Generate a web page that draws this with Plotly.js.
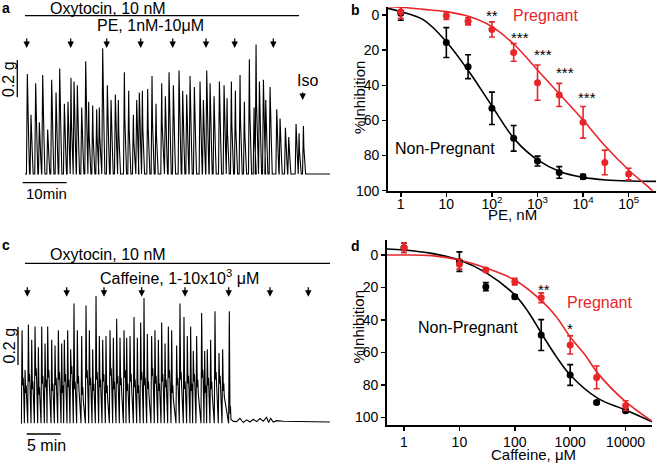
<!DOCTYPE html>
<html>
<head>
<meta charset="utf-8">
<script src="https://cdn.plot.ly/plotly-3.0.1.min.js"></script>
<style>html,body{margin:0;padding:0;background:#fff}#chart{width:660px;height:464px}</style>
</head>
<body>
<div id="chart"></div>
<script>
// ---------- Panel a: PE trace (time in min, tension in g) ----------
const aSpikeT = [0.53,1.36,2.42,3.26,4.02,5.15,6.06,7.05,7.88,8.94,9.77,10.45,11.14,11.89,12.88,13.79,14.47,15.38,16.29,16.89,17.65,18.71,19.55,20.53,21.21,22.58,23.56,24.62,25.38,25.98,26.67,27.88,28.86,29.77,31.06,31.89,32.73,33.71,35.0,35.83,36.74,37.5,38.48,39.77,40.53,41.29,42.05,42.95,44.17,45.23,45.91,46.89,47.8,48.86,49.85,50.98,52.05,52.5,53.26,54.17,54.7,55.68,57.2,57.95,59.17,59.92,61.59,62.27,63.26];
const aSpikeG = [0.54,0.32,0.49,0.28,0.535,0.24,0.51,0.44,0.57,0.38,0.39,0.52,0.50,0.48,0.36,0.61,0.39,0.37,0.35,0.36,0.68,0.48,0.40,0.43,0.40,0.55,0.45,0.32,0.40,0.44,0.45,0.46,0.53,0.38,0.49,0.42,0.55,0.48,0.56,0.45,0.43,0.53,0.47,0.50,0.40,0.56,0.49,0.42,0.50,0.48,0.41,0.50,0.45,0.535,0.39,0.62,0.36,0.70,0.50,0.51,0.40,0.47,0.35,0.30,0.25,0.20,0.27,0.22,0.26];
const aEndT = 69.3;
const aArrowX = [26.7,70.7,106.7,140.7,172.7,206,234.7,273.3];

// ---------- Panel c: caffeine trace ----------
const cSpikeT = [0.2,0.64,1.13,1.62,2.11,2.6,3.09,3.58,3.97,4.56,5.05,5.54,6.03,6.42,6.91,7.35,7.84,8.33,8.97,9.61,10.1,10.59,11.08,11.57,12.06,12.55,13.14,13.63,14.12,14.61,15.2,15.59,16.08,16.67,17.16,17.65,18.14,18.63,19.26,19.75,20.25,20.74,21.23,21.72,22.21,22.94,23.43,24.02,24.51,25.0,25.39,25.88,26.62,27.06,27.45,27.94,28.58,29.17,29.71,30.69];
const cSpikeG = [0.49,0.28,0.52,0.44,0.51,0.40,0.51,0.42,0.51,0.44,0.41,0.49,0.42,0.44,0.49,0.39,0.63,0.49,0.46,0.62,0.49,0.39,0.67,0.46,0.44,0.46,0.49,0.45,0.55,0.45,0.49,0.45,0.46,0.56,0.45,0.53,0.66,0.47,0.46,0.49,0.44,0.53,0.42,0.51,0.49,0.41,0.63,0.56,0.46,0.51,0.38,0.46,0.58,0.38,0.39,0.44,0.59,0.37,0.39,0.59];
const cMidG = [0.20,0.16,0.22,0.18,0.25,0.15,0.21,0.19,0.24,0.17,0.20,0.23,0.16,0.22,0.19,0.26,0.18,0.21,0.15,0.24,0.20,0.17,0.23,0.19,0.22,0.16,0.25,0.18,0.21,0.20,0.24,0.17,0.22,0.19,0.16,0.23,0.20,0.18,0.25,0.21,0.17,0.22,0.19,0.24,0.16,0.20,0.23,0.18,0.21,0.17,0.22,0.19,0.24,0.16,0.20,0.18,0.23,0.21,0.17,0.05];
const cTailT = [31.3,31.76,32.25,32.75,33.24,33.73,34.22,34.71,35.2,35.69,36.18,36.47,36.76,37.16,37.65,38.63,45.49];
const cTailG = [0.01,0.009,0.026,0.004,0.018,0.007,0.021,0.009,0.025,0.011,0.032,0.004,0.026,0.007,0.014,0.011,0.007];
const cArrowX = [27.3,66.7,104,141.7,185,228.7,270,308.3];

// ---------- Panel b: PE dose-response ----------
const peDose = [1,10,30,100,300,1000,3000,10000];
const peNonPreg = [-1,15.7,29.4,53.1,70.2,83.1,89.6,92];
const peNonPregErr = [4,8.5,6.8,9.2,7.3,2.8,3.3,1.3];
const peDoseP = [1,10,30,100,300,1000,3000,10000,30000,100000];
const pePreg = [-1.9,0.4,3.6,8.2,21.3,38.5,45.5,61.1,83.9,90.5];
const pePregErr = [3.8,2.2,2,4.3,5,10,6.6,9,7,3.3];
const peFitX = [0.525,1,3.16,10,31.6,100,316,1000,3162,10000,31623,100000,446684];
const peFitNonPreg = [-3.8,-1.9,2.8,15.2,32.3,51.8,70.8,82.5,89.2,92.4,93.9,94.5,94.7];
const peFitPregX = [0.525,1,3.16,10,31.6,100,316,1000,3162,10000,31623,100000,316228,446684];
const peFitPreg = [-4.7,-4.4,-3.2,-1.9,0.9,6.6,17.1,31.3,45.5,59.8,75,88.2,99.5,104];
const peStars = ['**','***','***','***','***'];
const peTickVals = [1,10,100,1000,10000,100000];
const peTickText = ['1','10','10<sup>2</sup>','10<sup>3</sup>','10<sup>4</sup>','10<sup>5</sup>'];

// ---------- Panel d: caffeine dose-response ----------
const cafDose = [1,10,30,100,300,1000,3000,10000];
const cafNonPreg = [-4.5,4.1,19.5,25.7,49.3,73.9,90.8,95.9];
const cafNonPregErr = [3,6,2.5,1.2,9.5,6.4,1,1];
const cafPreg = [-4.5,5.7,9.2,16.4,26.3,55.4,75.4,92.8];
const cafPregErr = [3,3,1.2,2,3,5.6,7,3];
const cafFitX = [0.49,1,3.16,10,31.6,100,174,316,562,1000,3162,10000,30000];
const cafFitNonPreg = [-3.7,-3.1,-1,3.1,11.3,24.6,34.9,49.3,62.6,73.9,88.3,95.5,102.7];
const cafFitPregX = [0.49,1,3.16,10,31.6,100,316,562,1000,1862,3162,10000,30000];
const cafFitPreg = [0,0,0.4,3.1,8.2,15.4,28.7,38,50.5,61.6,72.9,90.3,102.3];
const cafTickVals = [1,10,100,1000,10000];
const cafTickText = ['1','10','100','1000','10000'];

// ---------- build ----------
const RED = '#e8262a';
const FONT = 'Liberation Sans, Arial, sans-serif';
const W = 660, H = 464;
const px = x => x / W;
const py = y => 1 - y / H;

// spike drawing profile (rendering shape only): time offsets and fraction of the peak
const A_PROFILE_DT = [-0.2, 0, 0.1, 0.3, 0.5];
const A_PROFILE_F  = [0, 1, 0.55, 0.35, 0];

// trace a polyline
const aX = [0], aY = [0];
for (let i = 0; i < aSpikeT.length; i++) {
  for (let k = 0; k < A_PROFILE_DT.length; k++) {
    aX.push(aSpikeT[i] + A_PROFILE_DT[k]);
    aY.push(aSpikeG[i] * A_PROFILE_F[k]);
  }
}
aX.push(aEndT); aY.push(0);

// trace c polyline: rise, peak, fall to plateau, wobble, back to baseline
const C_WOBBLE_DT = [0.1, 0.17, 0.24];
const C_WOBBLE_D  = [0, 0.04, -0.03];
const cX = [0], cY = [0];
for (let i = 0; i < cSpikeT.length; i++) {
  cX.push(cSpikeT[i] - 0.1, cSpikeT[i]);
  cY.push(0, cSpikeG[i]);
  for (let k = 0; k < C_WOBBLE_DT.length; k++) {
    cX.push(cSpikeT[i] + C_WOBBLE_DT[k]);
    cY.push(cMidG[i] + C_WOBBLE_D[k]);
  }
}
for (let i = 0; i < cTailT.length; i++) { cX.push(cTailT[i]); cY.push(cTailG[i]); }

const traces = [
  {x: aX, y: aY, xaxis: 'x', yaxis: 'y', mode: 'lines', line: {color: '#000', width: 1.1}, hoverinfo: 'skip'},
  {x: cX, y: cY, xaxis: 'x3', yaxis: 'y3', mode: 'lines', line: {color: '#000', width: 1.1}, hoverinfo: 'skip'},
  // panel b
  {x: peFitX, y: peFitNonPreg, xaxis: 'x2', yaxis: 'y2', mode: 'lines', line: {color: '#000', width: 1.6, shape: 'spline'}},
  {x: peFitPregX, y: peFitPreg, xaxis: 'x2', yaxis: 'y2', mode: 'lines', line: {color: RED, width: 1.6, shape: 'spline'}},
  {x: peDose, y: peNonPreg, xaxis: 'x2', yaxis: 'y2', mode: 'markers', marker: {color: '#000', size: 7},
   error_y: {type: 'data', array: peNonPregErr, color: '#000', thickness: 1.6, width: 3}},
  {x: peDoseP, y: pePreg, xaxis: 'x2', yaxis: 'y2', mode: 'markers', marker: {color: RED, size: 7},
   error_y: {type: 'data', array: pePregErr, color: RED, thickness: 1.6, width: 3}},
  // panel d
  {x: cafFitX, y: cafFitNonPreg, xaxis: 'x4', yaxis: 'y4', mode: 'lines', line: {color: '#000', width: 1.6, shape: 'spline'}},
  {x: cafFitPregX, y: cafFitPreg, xaxis: 'x4', yaxis: 'y4', mode: 'lines', line: {color: RED, width: 1.6, shape: 'spline'}},
  {x: cafDose, y: cafNonPreg, xaxis: 'x4', yaxis: 'y4', mode: 'markers', marker: {color: '#000', size: 7},
   error_y: {type: 'data', array: cafNonPregErr, color: '#000', thickness: 1.6, width: 3}},
  {x: cafDose, y: cafPreg, xaxis: 'x4', yaxis: 'y4', mode: 'markers', marker: {color: RED, size: 7},
   error_y: {type: 'data', array: cafPregErr, color: RED, thickness: 1.6, width: 3}}
];

const hidden = {visible: false, fixedrange: true};
const doseAxis = (dom, rng, tv, tt) => ({
  domain: dom, type: 'log', range: rng, tickvals: tv, ticktext: tt,
  showline: true, linecolor: '#000', linewidth: 1.8, ticks: 'outside', ticklen: 4, tickwidth: 1.5,
  tickcolor: '#000', showgrid: false, zeroline: false, tickfont: {family: FONT, size: 14, color: '#000'}
});
const respAxis = (dom, rng, anchor) => ({
  domain: dom, range: rng, anchor: anchor, tickvals: [0,20,40,60,80,100],
  showline: true, linecolor: '#000', linewidth: 1.8, ticks: 'outside', ticklen: 4, tickwidth: 1.5,
  tickcolor: '#000', showgrid: false, zeroline: false, tickfont: {family: FONT, size: 14, color: '#000'}
});

const annotations = [];
const shapes = [];
function txt(text, x, y, size, opts) {
  annotations.push(Object.assign({text: text, x: px(x), y: py(y), xref: 'paper', yref: 'paper',
    showarrow: false, xanchor: 'center', yanchor: 'middle',
    font: {family: FONT, size: size, color: '#000'}}, opts || {}));
}
function arrow(x, yTip, len) {
  annotations.push({text: '', x: px(x), y: py(yTip), xref: 'paper', yref: 'paper', showarrow: true,
    ax: 0, ay: -len, arrowhead: 2, arrowsize: 1, arrowwidth: 1.3, arrowcolor: '#000'});
}
function line(x0, y0, x1, y1, w) {
  shapes.push({type: 'line', xref: 'paper', yref: 'paper', x0: px(x0), y0: py(y0), x1: px(x1), y1: py(y1),
    line: {color: '#000', width: w || 1.3}});
}

// panel a decorations
txt('<b>a</b>', 6.5, 8, 14);
txt('Oxytocin, 10 nM', 107.5, 8.5, 16);
line(25, 15.7, 299, 15.7);
txt('PE, 1nM-10\u03bcM', 150, 26, 16);
aArrowX.forEach(x => arrow(x, 48, 11));
txt('0.2 g', 9, 79, 16, {textangle: -90});
line(17.3, 60, 17.3, 97);
txt('Iso', 307, 80, 16);
arrow(302.7, 100, 9);
line(22.7, 182.7, 66.7, 182.7);
txt('10min', 46, 193, 15);

// panel c decorations
txt('<b>c</b>', 6.5, 245, 14);
txt('Oxytocin, 10 nM', 107.5, 255, 16);
line(25, 263.3, 330, 263.3);
txt('Caffeine, 1-10x10<sup>3</sup> \u03bcM', 179, 276.7, 16);
cArrowX.forEach(x => arrow(x, 296.7, 11));
txt('0.2 g', 8.5, 346, 16, {textangle: -90});
line(18, 327, 18, 365);
line(26.7, 434, 60.7, 434);
txt('5 min', 46.7, 445, 16);

// panel b decorations
txt('<b>b</b>', 355, 10, 14);
txt('%Inhibition', 359.5, 97.5, 15, {textangle: -90});
txt('PE, nM', 512, 214.5, 15);
txt('Pregnant', 545.5, 16, 16, {font: {family: FONT, size: 16, color: RED}});
txt('Non-Pregnant', 445, 148, 16);
const peStarPx = [[491.7,16],[520,37.5],[543,54],[565,72.5],[587,97]];
peStars.forEach((s, i) => txt(s, peStarPx[i][0], peStarPx[i][1], 15));

// panel d decorations
txt('<b>d</b>', 355, 245.8, 14);
txt('%Inhibition', 358.7, 326.7, 15, {textangle: -90});
txt('Caffeine, \u03bcM', 533, 454.5, 15);
txt('Pregnant', 599.3, 302.7, 16, {font: {family: FONT, size: 16, color: RED}});
txt('Non-Pregnant', 467.7, 327.7, 16);
txt('**', 544.3, 289, 15);
txt('*', 570.3, 328, 15);

const layout = {
  width: W, height: H, margin: {l: 0, r: 0, t: 0, b: 0}, showlegend: false,
  paper_bgcolor: '#fff', plot_bgcolor: 'rgba(0,0,0,0)',
  xaxis: Object.assign({domain: [px(25), px(330)], range: [0, aEndT], anchor: 'y'}, hidden),
  yaxis: Object.assign({domain: [py(180), py(40)], range: [-0.0324, 0.7243], anchor: 'x'}, hidden),
  xaxis3: Object.assign({domain: [px(20.7), px(330)], range: [0, 45.5], anchor: 'y3'}, hidden),
  yaxis3: Object.assign({domain: [py(430), py(290)], range: [-0.0353, 0.7016], anchor: 'x3'}, hidden),
  xaxis2: Object.assign(doseAxis([px(388), px(656)], [-0.28, 5.60], peTickVals, peTickText), {anchor: 'y2', ticklabelstandoff: -4}),
  yaxis2: respAxis([py(190.7), py(7)], [100, -4.55], 'x2'),
  xaxis4: Object.assign(doseAxis([px(387), px(652)], [-0.307, 4.477], cafTickVals, cafTickText), {anchor: 'y4', ticklabelstandoff: -1}),
  yaxis4: respAxis([py(425), py(240)], [104.7, -9.24], 'x4'),
  annotations: annotations,
  shapes: shapes
};

Plotly.newPlot('chart', traces, layout, {staticPlot: true, displayModeBar: false});
</script>
</body>
</html>
